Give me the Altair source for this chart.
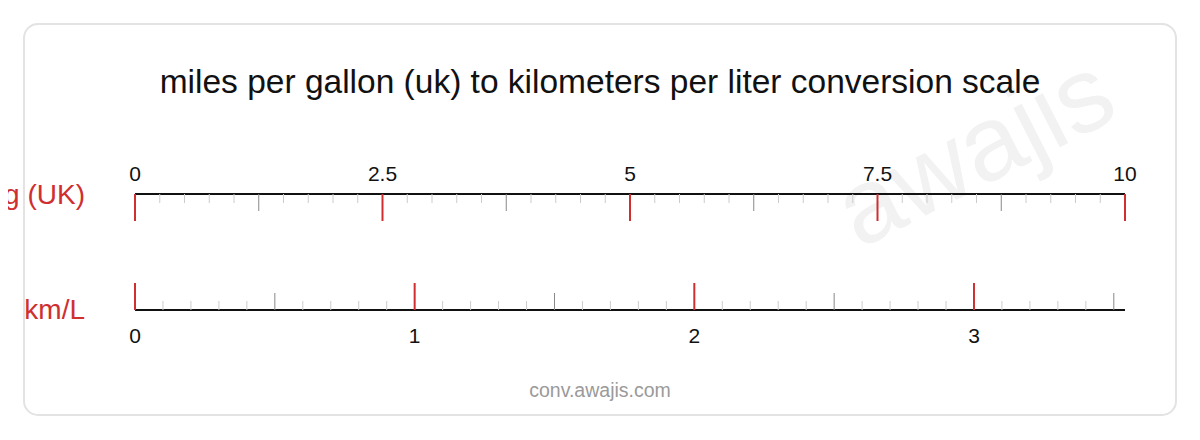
import altair as alt
import pandas as pd

TITLE = "miles per gallon (uk) to kilometers per liter conversion scale"
TOP_NAME = "mpg (UK)"
BOTTOM_NAME = "km/L"
FOOTER = "conv.awajis.com"
WATERMARK = "awajis"

# top scale (mpg UK)
mpg_domain = [0, 10]
mpg_major = [0, 2.5, 5, 7.5, 10]
mpg_major_labels = ["0", "2.5", "5", "7.5", "10"]
mpg_mid = [1.25, 3.75, 6.25, 8.75]
mpg_minor = [0.25, 0.5, 0.75, 1.0, 1.5, 1.75, 2.0, 2.25,
             2.75, 3.0, 3.25, 3.5, 4.0, 4.25, 4.5, 4.75,
             5.25, 5.5, 5.75, 6.0, 6.5, 6.75, 7.0, 7.25,
             7.75, 8.0, 8.25, 8.5, 9.0, 9.25, 9.5, 9.75]

# bottom scale (km/L); 10 mpg(UK) = 3.54006 km/L
kml_domain = [0, 3.54006]
kml_major = [0, 1, 2, 3]
kml_major_labels = ["0", "1", "2", "3"]
kml_mid = [0.5, 1.5, 2.5, 3.5]
kml_minor = [0.1, 0.2, 0.3, 0.4, 0.6, 0.7, 0.8, 0.9,
             1.1, 1.2, 1.3, 1.4, 1.6, 1.7, 1.8, 1.9,
             2.1, 2.2, 2.3, 2.4, 2.6, 2.7, 2.8, 2.9,
             3.1, 3.2, 3.3, 3.4]

FONT = "Liberation Sans"
RED = "#cf2f2f"
X0, X1 = 127, 1117
TOP_Y = 186
BOT_Y = 302

mpg_scale = alt.Scale(domain=mpg_domain, range=[X0, X1])
kml_scale = alt.Scale(domain=kml_domain, range=[X0, X1])

one = pd.DataFrame({"a": [0]})

card = alt.Chart(one).mark_rect(
    fill="white", stroke="#e3e3e3", strokeWidth=2, cornerRadius=14
).encode(x=alt.value(16), x2=alt.value(1168), y=alt.value(16), y2=alt.value(407))

watermark = alt.Chart(one).mark_text(
    text=WATERMARK, font=FONT, fontSize=106, color="#f2f2f2", angle=333,
    align="center", baseline="middle"
).encode(x=alt.value(968), y=alt.value(146))

title = alt.Chart(one).mark_text(
    text=TITLE, font=FONT, fontSize=33.5, color="#111111", align="center",
    baseline="alphabetic"
).encode(x=alt.value(592), y=alt.value(85))

footer = alt.Chart(one).mark_text(
    text=FOOTER, font=FONT, fontSize=19.5, color="#9a9a9a", align="center",
    baseline="alphabetic"
).encode(x=alt.value(592), y=alt.value(389))

top_name = alt.Chart(one).mark_text(
    text=TOP_NAME, font=FONT, fontSize=28, color=RED, align="right",
    baseline="alphabetic"
).encode(x=alt.value(77), y=alt.value(196))

bot_name = alt.Chart(one).mark_text(
    text=BOTTOM_NAME, font=FONT, fontSize=28, color=RED, align="right",
    baseline="alphabetic"
).encode(x=alt.value(77), y=alt.value(311))

# top scale
top_line = alt.Chart(pd.DataFrame({"s": [mpg_domain[0]], "e": [mpg_domain[1]]})).mark_rule(
    color="#111111", strokeWidth=2
).encode(x=alt.X("s:Q", scale=mpg_scale, axis=None), x2="e:Q", y=alt.value(TOP_Y))

top_minor = alt.Chart(pd.DataFrame({"v": mpg_minor})).mark_rule(
    color="#cccccc", strokeWidth=1
).encode(x=alt.X("v:Q", scale=mpg_scale, axis=None), y=alt.value(TOP_Y), y2=alt.value(TOP_Y + 9))

top_mid = alt.Chart(pd.DataFrame({"v": mpg_mid})).mark_rule(
    color="#888888", strokeWidth=1
).encode(x=alt.X("v:Q", scale=mpg_scale, axis=None), y=alt.value(TOP_Y), y2=alt.value(TOP_Y + 17))

top_major = alt.Chart(pd.DataFrame({"v": mpg_major})).mark_rule(
    color=RED, strokeWidth=2
).encode(x=alt.X("v:Q", scale=mpg_scale, axis=None), y=alt.value(TOP_Y), y2=alt.value(TOP_Y + 27))

top_labels = alt.Chart(pd.DataFrame({"v": mpg_major, "t": mpg_major_labels})).mark_text(
    font=FONT, fontSize=21, color="#111111", align="center", baseline="alphabetic"
).encode(x=alt.X("v:Q", scale=mpg_scale, axis=None), y=alt.value(173), text="t:N")

# bottom scale
bot_line = alt.Chart(pd.DataFrame({"s": [kml_domain[0]], "e": [kml_domain[1]]})).mark_rule(
    color="#111111", strokeWidth=2
).encode(x=alt.X("s:Q", scale=kml_scale, axis=None), x2="e:Q", y=alt.value(BOT_Y))

bot_minor = alt.Chart(pd.DataFrame({"v": kml_minor})).mark_rule(
    color="#cccccc", strokeWidth=1
).encode(x=alt.X("v:Q", scale=kml_scale, axis=None), y=alt.value(BOT_Y - 9), y2=alt.value(BOT_Y))

bot_mid = alt.Chart(pd.DataFrame({"v": kml_mid})).mark_rule(
    color="#888888", strokeWidth=1
).encode(x=alt.X("v:Q", scale=kml_scale, axis=None), y=alt.value(BOT_Y - 17), y2=alt.value(BOT_Y))

bot_major = alt.Chart(pd.DataFrame({"v": kml_major})).mark_rule(
    color=RED, strokeWidth=2
).encode(x=alt.X("v:Q", scale=kml_scale, axis=None), y=alt.value(BOT_Y - 27), y2=alt.value(BOT_Y))

bot_labels = alt.Chart(pd.DataFrame({"v": kml_major, "t": kml_major_labels})).mark_text(
    font=FONT, fontSize=21, color="#111111", align="center", baseline="alphabetic"
).encode(x=alt.X("v:Q", scale=kml_scale, axis=None), y=alt.value(335), text="t:N")

top = alt.layer(top_line, top_minor, top_mid, top_major, top_labels)
bot = alt.layer(bot_line, bot_minor, bot_mid, bot_major, bot_labels)

chart = alt.layer(
    card, watermark, title, footer, top_name, bot_name, top, bot
).resolve_scale(x="independent").properties(
    width=1184, height=424, autosize=alt.AutoSizeParams(type="none"), padding=0,
    background="white"
).configure_view(stroke=None)

chart.save("out.html", embed_options={"renderer": "svg", "actions": False})
